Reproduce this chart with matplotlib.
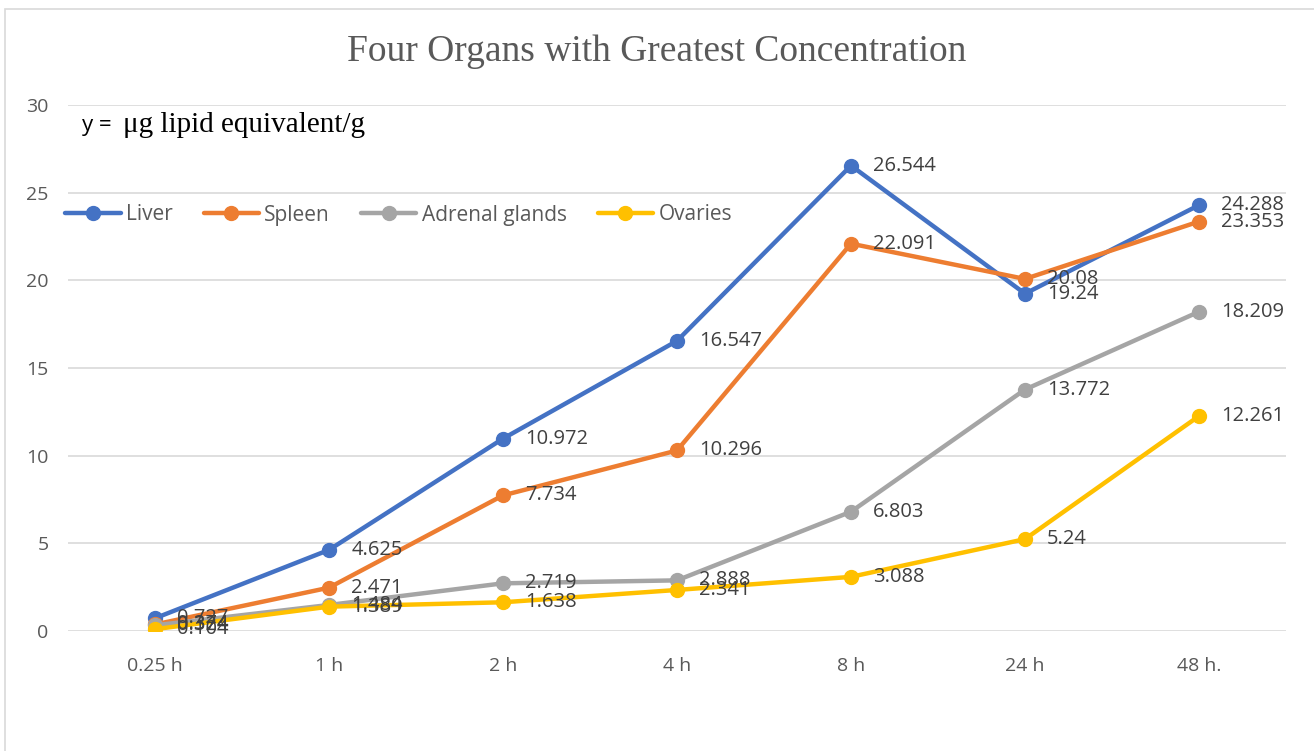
import numpy as np
import matplotlib.pyplot as plt
from matplotlib.patches import Rectangle

times = ["0.25 h", "1 h", "2 h", "4 h", "8 h", "24 h", "48 h."]
liver = [0.727, 4.625, 10.972, 16.547, 26.544, 19.24, 24.288]
spleen = [0.374, 2.471, 7.734, 10.296, 22.091, 20.08, 23.353]
adrenal = [0.324, 1.484, 2.719, 2.888, 6.803, 13.772, 18.209]
ovaries = [0.104, 1.389, 1.638, 2.341, 3.088, 5.24, 12.261]

series = [("Liver", liver, "#4472C4"),
          ("Spleen", spleen, "#ED7D31"),
          ("Adrenal glands", adrenal, "#A5A5A5"),
          ("Ovaries", ovaries, "#FFC000")]

sans = ["Open Sans", "DejaVu Sans"]
serif = ["Liberation Serif", "DejaVu Serif"]

fig = plt.figure(figsize=(13.14, 7.51), dpi=100)
ax = fig.add_axes([68 / 1314, 1 - 631 / 751, (1286 - 68) / 1314, (631 - 105) / 751])

# chart border
fig.patches.append(Rectangle((5 / 1314, -0.01), 1.02, 1 - 9 / 751 + 0.01,
                             transform=fig.transFigure, fill=False,
                             edgecolor="#D9D9D9", linewidth=1.2))

x = np.arange(len(times))
for name, vals, col in series:
    ax.plot(x, vals, color=col, linewidth=3.2, marker="o", markersize=10,
            label=name, solid_capstyle="round", zorder=3)
    for xi, v in zip(x, vals):
        ax.annotate(f"{v:g}", (xi, v), xytext=(16, 0), textcoords="offset points",
                    ha="left", va="center", fontsize=14.5, color="#404040",
                    family=sans, zorder=4)

ax.set_xlim(-0.5, len(times) - 0.5)
ax.set_ylim(0, 30)
ax.set_yticks(range(0, 31, 5))
ax.set_xticks(x)
ax.set_xticklabels(times)
ax.grid(axis="y", color="#D9D9D9", linewidth=1.2)
ax.set_axisbelow(True)
for s in ax.spines.values():
    s.set_visible(False)
ax.tick_params(length=0, labelsize=14, labelcolor="#595959")
ax.tick_params(axis="x", pad=19)
ax.tick_params(axis="y", pad=14)
for lab in ax.get_xticklabels() + ax.get_yticklabels():
    lab.set_family(sans)

fig.text(0.5, 1 - 52 / 751, "Four Organs with Greatest Concentration",
         ha="center", va="center", fontsize=27, color="#595959", family=serif)
fig.text(82 / 1314, 1 - 125 / 751, "y =", ha="left", va="center",
         fontsize=16, color="black", family=sans)
fig.text(123 / 1314, 1 - 125 / 751, "\u03bcg lipid equivalent/g", ha="left",
         va="center", fontsize=21, color="black", family=serif)

leg = ax.legend(loc="center left", bbox_to_anchor=(57 / 1314, 1 - 215 / 751),
                bbox_transform=fig.transFigure, ncol=4, frameon=False,
                handlelength=2.65, columnspacing=1.5, handletextpad=0.25,
                borderaxespad=0, prop={"family": sans, "size": 15})
for t in leg.get_texts():
    t.set_color("#595959")

plt.savefig("out.png")
